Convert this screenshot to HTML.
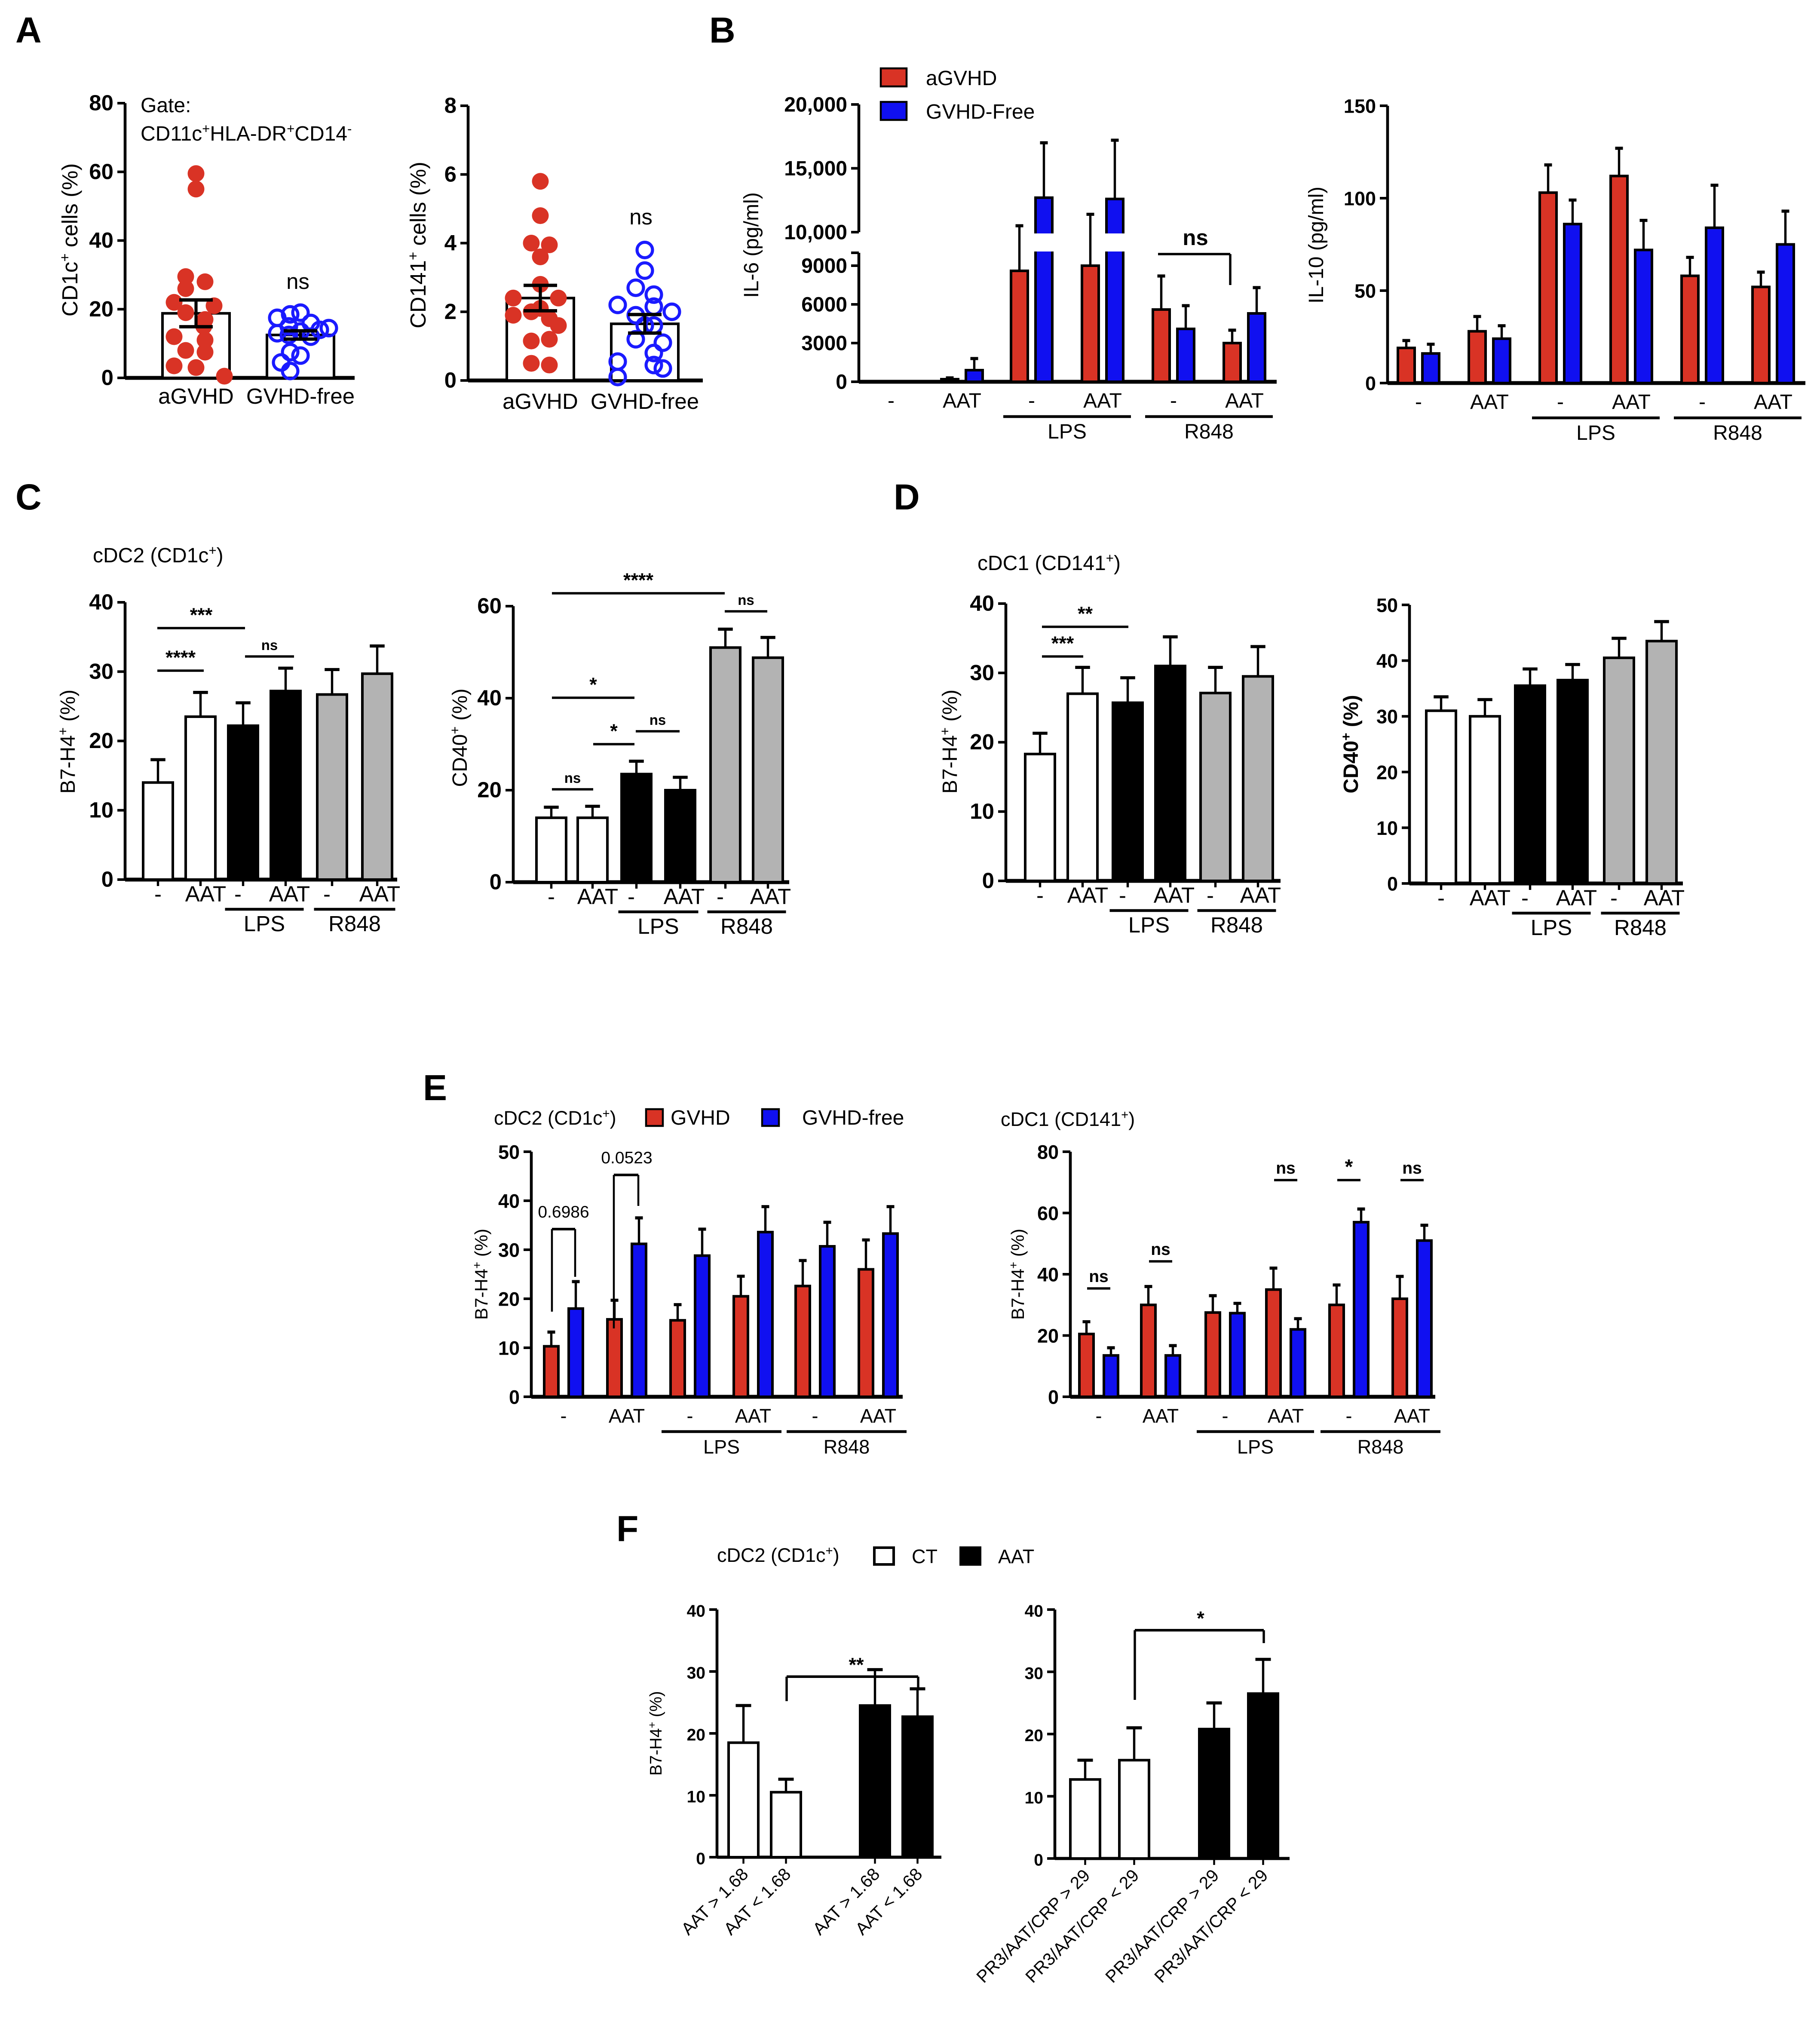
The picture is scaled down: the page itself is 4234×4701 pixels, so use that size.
<!DOCTYPE html>
<html><head><meta charset="utf-8"><style>
html,body{margin:0;padding:0;background:#fff;}
svg{display:block;font-family:"Liberation Sans",Arial,sans-serif;}
</style></head><body>
<svg id="fig" xmlns="http://www.w3.org/2000/svg" width="4234" height="4701" viewBox="0 0 1411.33 1567"></svg>
<script>
// ---------- DATA ----------
const A1_red=[59.5,55,29.5,28,26,22,21,19,17,15,12,11,8,7.5,3.5,3,0.5];
const A1_blue=[19,18.5,17.5,16,15,14.5,14,13.5,13,12.5,12,7.5,6.5,4.5,2];
const A1_means=[18.8,12.5];
const A1_sem=[3.9,1.2];
const A2_red=[5.8,4.8,4.0,3.95,3.6,2.8,2.4,2.4,2.1,2.0,1.8,1.9,1.6,1.2,1.15,0.5,0.45];
const A2_blue=[3.8,3.2,2.7,2.5,2.2,2.0,1.9,2.15,1.6,1.6,1.2,1.1,0.8,0.55,0.45,0.35,0.1];
const A2_means=[2.4,1.65];
const A2_sem=[0.37,0.27];
const A_cats=["aGVHD","GVHD-free"];

const B1_red=[30,200,8600,9000,5600,3000];
const B1_redErr=[30,300,10500,11400,8200,4000];
const B1_blue=[30,900,12700,12600,4100,5300];
const B1_blueErr=[30,1800,17000,17200,5900,7300];
const B2_red=[19,28,103,112,58,52];
const B2_redErr=[23,36,118,127,68,60];
const B2_blue=[16,24,86,72,84,75];
const B2_blueErr=[21,31,99,88,107,93];

const C1_vals=[14,23.5,22.2,27.2,26.7,29.7];
const C1_err=[17.3,27,25.5,30.5,30.3,33.7];
const C2_vals=[14,14,23.5,20,51,48.8];
const C2_err=[16.3,16.5,26.3,22.8,55,53.2];
const D1_vals=[18.3,27,25.7,31,27.1,29.5];
const D1_err=[21.3,30.8,29.3,35.2,30.8,33.8];
const D2_vals=[31,30,35.5,36.5,40.5,43.5];
const D2_err=[33.5,33,38.5,39.3,44,47];

const E1_red=[10.3,15.8,15.6,20.5,22.6,26];
const E1_redErr=[13.2,19.7,18.8,24.6,27.8,32];
const E1_blue=[18,31.2,28.8,33.6,30.7,33.3];
const E1_blueErr=[23.5,36.5,34.2,38.8,35.6,38.8];
const E2_red=[20.5,30,27.5,35,30,32];
const E2_redErr=[24.5,36,33,42,36.5,39.3];
const E2_blue=[13.5,13.5,27.3,22,57,51];
const E2_blueErr=[16,16.7,30.5,25.5,61.3,56];

const F1_vals=[18.5,10.5,24.5,22.7];
const F1_err=[24.5,12.6,30.3,27.2];
const F1_labels=["AAT > 1.68","AAT < 1.68","AAT > 1.68","AAT < 1.68"];
const F2_vals=[12.7,15.8,20.8,26.5];
const F2_err=[15.8,21,25,32];
const F2_labels=["PR3/AAT/CRP > 29","PR3/AAT/CRP < 29","PR3/AAT/CRP > 29","PR3/AAT/CRP < 29"];

// ---------- HELPERS ----------
const NS="http://www.w3.org/2000/svg";
const svg=document.getElementById('fig');
function mk(tag,attrs,name,parent){
  const e=document.createElementNS(NS,tag);
  for(const k in attrs)e.setAttribute(k,attrs[k]);
  
  
  (parent||svg).appendChild(e);return e;
}
function txt(x,y,s,size,name,opt){
  opt=opt||{};
  const t=mk('text',{x:x,y:y,'font-size':size,'text-anchor':opt.anchor||'middle','font-weight':opt.bold?'bold':'normal',fill:'#000'},name);
  if(opt.rot)t.setAttribute('transform','rotate('+opt.rot+' '+x+' '+y+')');
  if(Array.isArray(s)){s.forEach(p=>{const ts=document.createElementNS(NS,'tspan');
    if(p[1]){ts.setAttribute('baseline-shift','super');ts.setAttribute('font-size',size*0.65);}
    ts.textContent=p[0];t.appendChild(ts);});}
  else t.textContent=s;
  return t;
}
function line(x1,y1,x2,y2,w,name){return mk('line',{x1:x1,y1:y1,x2:x2,y2:y2,stroke:'#000','stroke-width':w||2},name);}
function scale(y0,y1,vmax){return v=>y0-(y0-y1)*v/vmax;}
function yaxis(x,y0,y1,vmax,ticks,fmt,size,name){
  const s=scale(y0,y1,vmax);
  line(x,y0,x,y1,2.2,name+'-line');
  ticks.forEach(t=>{line(x-6,s(t),x,s(t),2,name+'-tick');
    txt(x-9,s(t)+5.5,fmt?fmt(t):String(t),size||16,name+'-label',{anchor:'end',bold:true});});
  return s;
}
function bar(x,w,y0,yv,fill,name){return mk('rect',{x:x,y:Math.min(yv,y0),width:w,height:Math.abs(y0-yv),fill:fill,stroke:'#000','stroke-width':2},name);}
function err(cx,yv,ye,cap,name){line(cx,yv,cx,ye,1.8,name);line(cx-cap,ye,cx+cap,ye,2.4,name+'-cap');}
function catLabels(centers,y,labels,size,name){centers.forEach((c,i)=>txt(c,y,labels[i],size,name));}
function groupLine(x1,x2,y,label,size,name){line(x1,y,x2,y,2.2,name+'-line');txt((x1+x2)/2,y+17,label,size,name+'-label');}
function sig(x1,x2,y,label,size,name){line(x1,y,x2,y,1.8,name+'-line');txt((x1+x2)/2,y-5,label,size,name+'-label',{bold:true});}

// ---------- PANEL LETTERS ----------
[["A",12,33],["B",550,33],["C",12,395],["D",693,395],["E",328,853],["F",478,1195]].forEach(p=>txt(p[1],p[2],p[0],28,'panel-letter-'+p[0],{anchor:'start',bold:true}));

// ---------- A1 ----------
(function(){
  const s=yaxis(97,293,80,80,[0,20,40,60,80],null,17,'a1-y-axis');
  line(97,293,275,293,3,'a1-x-axis');
  txt(60,186,[["CD1c",0],["+",1],[" cells (%)",0]],17,'a1-y-title',{rot:-90});
  txt(109,87,"Gate:",16,'a1-gate-label',{anchor:'start'});
  txt(109,109,[["CD11c",0],["+",1],["HLA-DR",0],["+",1],["CD14",0],["-",1]],16,'a1-gate-text',{anchor:'start'});
  const cx=[152,233];
  [0,1].forEach(i=>{bar(cx[i]-26,52,293,s(A1_means[i]),'#fff','a1-bar-'+i);});
  A1_red.forEach((v,i)=>{const off=[0,0,-8,7,-8,-17,14,-8,7,6,-17,7,-8,7,-17,0,22][i];
    mk('circle',{cx:cx[0]+off,cy:s(v),r:6.5,fill:'#d93325'},'a1-point-agvhd');});
  A1_blue.forEach((v,i)=>{const off=[0,-8,-18,8,-9,22,15,0,-18,-9,8,-8,0,-15,-8][i];
    mk('circle',{cx:cx[1]+off,cy:s(v),r:6,fill:'none',stroke:'#1a1aff','stroke-width':2.4},'a1-point-gvhdfree');});
  [0,1].forEach(i=>{const m=A1_means[i],e=A1_sem[i];line(cx[i],s(m-e),cx[i],s(m+e),2.4,'a1-sem');
    line(cx[i]-13,s(m+e),cx[i]+13,s(m+e),2.6,'a1-sem-cap');line(cx[i]-13,s(m-e),cx[i]+13,s(m-e),2.6,'a1-sem-cap');});
  txt(231,224,"ns",17,'a1-ns');
  catLabels(cx,313,A_cats,17,'a1-category');
})();
// ---------- A2 ----------
(function(){
  const s=yaxis(363,295,82,8,[0,2,4,6,8],null,17,'a2-y-axis');
  line(363,295,545,295,3,'a2-x-axis');
  txt(330,190,[["CD141",0],["+",1],[" cells (%)",0]],17,'a2-y-title',{rot:-90});
  const cx=[419,500];
  [0,1].forEach(i=>bar(cx[i]-26,52,295,s(A2_means[i]),'#fff','a2-bar-'+i));
  A2_red.forEach((v,i)=>{const off=[0,0,-7,7,0,0,-21,14,0,-7,7,-21,14,7,-7,-7,7][i];
    mk('circle',{cx:cx[0]+off,cy:s(v),r:6.5,fill:'#d93325'},'a2-point-agvhd');});
  A2_blue.forEach((v,i)=>{const off=[0,0,-7,7,-21,21,-7,7,0,7,-7,14,7,-21,7,14,-21][i];
    mk('circle',{cx:cx[1]+off,cy:s(v),r:6,fill:'none',stroke:'#1a1aff','stroke-width':2.4},'a2-point-gvhdfree');});
  [0,1].forEach(i=>{const m=A2_means[i],e=A2_sem[i];line(cx[i],s(m-e),cx[i],s(m+e),2.4,'a2-sem');
    line(cx[i]-13,s(m+e),cx[i]+13,s(m+e),2.6,'a2-sem-cap');line(cx[i]-13,s(m-e),cx[i]+13,s(m-e),2.6,'a2-sem-cap');});
  txt(497,174,"ns",17,'a2-ns');
  catLabels(cx,317,A_cats,17,'a2-category');
})();

function grouped(prefix,s,y0,centers,red,redE,blue,blueE,bw,gap){
  centers.forEach((c,i)=>{
    const xr=c-gap/2-bw, xb=c+gap/2;
    bar(xr,bw,y0,s(red[i]),'#d93325',prefix+'-bar-red');
    err(xr+bw/2,s(red[i]),s(redE[i]),3,prefix+'-err-red');
    bar(xb,bw,y0,s(blue[i]),'#1010f0',prefix+'-bar-blue');
    err(xb+bw/2,s(blue[i]),s(blueE[i]),3,prefix+'-err-blue');
  });
}
function sixLabels(prefix,centers,yAx,size){
  const lab=["-","AAT","-","AAT","-","AAT"];
  catLabels(centers,yAx+20,lab,size,prefix+'-category');
  groupLine(centers[2]-22,centers[3]+22,yAx+27,"LPS",size,prefix+'-group-lps');
  groupLine(centers[4]-22,centers[5]+22,yAx+27,"R848",size,prefix+'-group-r848');
}

// ---------- B1 (broken axis) ----------
(function(){
  const lo=scale(296,206,9000);
  const up=v=>180-(v-10000)*(99/10000);
  const s=v=> v<=9300 ? lo(v) : (v<10000? 188 : up(v));
  const x=666;
  line(x,296,x,196,2.2,'b1-y-axis-lower');line(x,180,x,81,2.2,'b1-y-axis-upper');
  line(x-6,196,x,196,2,'b1-break-tick');
  [0,3000,6000,9000].forEach(t=>{line(x-6,lo(t),x,lo(t),2,'b1-tick');txt(x-9,lo(t)+5.5,String(t),16,'b1-tick-label',{anchor:'end',bold:true});});
  [[10000,"10,000"],[15000,"15,000"],[20000,"20,000"]].forEach(t=>{line(x-6,up(t[0]),x,up(t[0]),2,'b1-tick');txt(x-9,up(t[0])+5.5,t[1],16,'b1-tick-label',{anchor:'end',bold:true});});
  line(x,296,990,296,3,'b1-x-axis');
  txt(588,190,"IL-6 (pg/ml)",16,'b1-y-title',{rot:-90});
  const centers=[691,746,800,855,910,965];
  grouped('b1',s,296,centers,B1_red,B1_redErr,B1_blue,B1_blueErr,13,6);
  mk('rect',{x:x+2,y:181,width:300,height:14,fill:'#fff'},'b1-axis-gap');
  // redraw error stems crossing the gap for red bars above break
  centers.forEach((c,i)=>{if(B1_red[i]>8000&&B1_redErr[i]>10000){line(c-9.5,181,c-9.5,195,1.8,'b1-err-red');}});
  sixLabels('b1',centers,296,16);
  line(898,197,954,197,1.8,'b1-ns-line');line(954,197,954,221,1.8,'b1-ns-tick');
  txt(927,190,"ns",17,'b1-ns',{bold:true});
  mk('rect',{x:683,y:53,width:20,height:14,fill:'#d93325',stroke:'#000','stroke-width':1.5},'legend-swatch-agvhd');
  txt(718,66,"aGVHD",16,'legend-label-agvhd',{anchor:'start'});
  mk('rect',{x:683,y:79,width:20,height:14,fill:'#1010f0',stroke:'#000','stroke-width':1.5},'legend-swatch-gvhdfree');
  txt(718,92,"GVHD-Free",16,'legend-label-gvhdfree',{anchor:'start'});
})();
// ---------- B2 ----------
(function(){
  const s=yaxis(1076,297,82,150,[0,50,100,150],null,15,'b2-y-axis');
  line(1076,297,1400,297,3,'b2-x-axis');
  txt(1026,190,"IL-10 (pg/ml)",16,'b2-y-title',{rot:-90});
  const centers=[1100,1155,1210,1265,1320,1375];
  grouped('b2',s,297,centers,B2_red,B2_redErr,B2_blue,B2_blueErr,13,6);
  sixLabels('b2',centers,297,16);
})();

function sixBars(prefix,s,y0,lefts,w,vals,errs){
  const fills=['#fff','#fff','#000','#000','#b3b3b3','#b3b3b3'];
  lefts.forEach((x,i)=>{bar(x,w,y0,s(vals[i]),fills[i],prefix+'-bar');err(x+w/2,s(vals[i]),s(errs[i]),w/4,prefix+'-err');
    line(x+w/2,y0,x+w/2,y0+5,1.8,prefix+'-x-tick');});
}
function sixBarLabels(prefix,lefts,w,y0){
  const c=lefts.map(x=>x+w/2);
  catLabels([c[0],c[1]+4],y0+17,["-","AAT"],17,prefix+'-category');
  catLabels([c[2]-4,c[3]+3,c[4]-4,c[5]+2],y0+17,["-","AAT","-","AAT"],17,prefix+'-category');
  groupLine(c[2]-14,c[3]+14,y0+23,"LPS",17,prefix+'-group-lps');
  groupLine(c[4]-14,c[5]+14,y0+23,"R848",17,prefix+'-group-r848');
}
// ---------- C1 ----------
(function(){
  txt(72,436,[["cDC2 (CD1c",0],["+",1],[")",0]],16,'c-title',{anchor:'start'});
  const s=yaxis(97,682,467,40,[0,10,20,30,40],null,17,'c1-y-axis');
  line(97,682,308,682,3,'c1-x-axis');
  txt(58,575,[["B7-H4",0],["+",1],[" (%)",0]],16,'c1-y-title',{rot:-90});
  const L=[111,144,177,210,246,281];
  sixBars('c1',s,682,L,23,C1_vals,C1_err);
  sixBarLabels('c1',L,23,682);
  sig(122,158,520,"****",15,'c1-sig-1');sig(122,190,487,"***",15,'c1-sig-2');sig(190,228,509,"ns",11,'c1-sig-3');
})();
// ---------- C2 ----------
(function(){
  const s=yaxis(398,684,470,60,[0,20,40,60],null,17,'c2-y-axis');
  line(398,684,612,684,3,'c2-x-axis');
  txt(362,572,[["CD40",0],["+",1],[" (%)",0]],16,'c2-y-title',{rot:-90});
  const L=[416,448,482,516,551,584];
  sixBars('c2',s,684,L,23,C2_vals,C2_err);
  sixBarLabels('c2',L,23,684);
  sig(428,460,612,"ns",11,'c2-sig-1');sig(460,492,577,"*",15,'c2-sig-2');sig(493,527,567,"ns",11,'c2-sig-3');
  sig(428,492,541,"*",15,'c2-sig-4');sig(428,562,460,"****",15,'c2-sig-5');sig(562,595,474,"ns",11,'c2-sig-6');
})();
// ---------- D1 ----------
(function(){
  txt(758,442,[["cDC1 (CD141",0],["+",1],[")",0]],16,'d-title',{anchor:'start'});
  const s=yaxis(780,683,468,40,[0,10,20,30,40],null,17,'d1-y-axis');
  line(780,683,993,683,3,'d1-x-axis');
  txt(742,575,[["B7-H4",0],["+",1],[" (%)",0]],16,'d1-y-title',{rot:-90});
  const L=[795,828,863,896,931,964];
  sixBars('d1',s,683,L,23,D1_vals,D1_err);
  sixBarLabels('d1',L,23,683);
  sig(808,840,509,"***",15,'d1-sig-1');sig(808,875,486,"**",15,'d1-sig-2');
})();
// ---------- D2 ----------
(function(){
  const s=yaxis(1093,685,469,50,[0,10,20,30,40,50],null,15,'d2-y-axis');
  line(1093,685,1305,685,3,'d2-x-axis');
  txt(1053,577,[["CD40",0],["+",1],[" (%)",0]],16,'d2-y-title',{rot:-90,bold:true});
  const L=[1106,1140,1175,1208,1244,1277];
  sixBars('d2',s,685,L,23,D2_vals,D2_err);
  sixBarLabels('d2',L,23,685);
})();
// ---------- E1 ----------
(function(){
  txt(383,872,[["cDC2 (CD1c",0],["+",1],[")",0]],15,'e1-title',{anchor:'start'});
  mk('rect',{x:501,y:860,width:13,height:13,fill:'#d93325',stroke:'#000','stroke-width':1.5},'e-legend-swatch-gvhd');
  txt(520,872,"GVHD",16,'e-legend-label-gvhd',{anchor:'start'});
  mk('rect',{x:591,y:860,width:13,height:13,fill:'#1010f0',stroke:'#000','stroke-width':1.5},'e-legend-swatch-gvhdfree');
  txt(622,872,"GVHD-free",16,'e-legend-label-gvhdfree',{anchor:'start'});
  const s=yaxis(412,1083,893,50,[0,10,20,30,40,50],null,15,'e1-y-axis');
  line(412,1083,700,1083,3,'e1-x-axis');
  txt(378,988,[["B7-H4",0],["+",1],[" (%)",0]],14,'e1-y-title',{rot:-90});
  const centers=[437,486,535,584,632,681];
  grouped('e1',s,1083,centers,E1_red,E1_redErr,E1_blue,E1_blueErr,11,8);
  sixLabels('e1',centers,1083,15);
  line(428,1017,428,953,1.5,'e1-bracket-1');line(428,953,446,953,2,'e1-bracket-1');line(446,953,446,990,1.5,'e1-bracket-1');
  txt(437,944,"0.6986",13,'e1-pvalue-1');
  line(476,1030,476,911,1.5,'e1-bracket-2');line(476,911,495,911,2,'e1-bracket-2');line(495,911,495,935,1.5,'e1-bracket-2');
  txt(486,902,"0.0523",13,'e1-pvalue-2');
})();
// ---------- E2 ----------
(function(){
  txt(776,873,[["cDC1 (CD141",0],["+",1],[")",0]],15,'e2-title',{anchor:'start'});
  const s=yaxis(830,1083,893,80,[0,20,40,60,80],null,15,'e2-y-axis');
  line(830,1083,1113,1083,3,'e2-x-axis');
  txt(794,988,[["B7-H4",0],["+",1],[" (%)",0]],14,'e2-y-title',{rot:-90});
  const centers=[852,900,950,997,1046,1095];
  grouped('e2',s,1083,centers,E2_red,E2_redErr,E2_blue,E2_blueErr,11,8);
  sixLabels('e2',centers,1083,15);
  sig(843,861,999,"ns",13,'e2-sig-1');sig(891,909,978,"ns",13,'e2-sig-2');
  sig(988,1006,915,"ns",13,'e2-sig-3');sig(1037,1055,915,"*",16,'e2-sig-4');sig(1086,1104,915,"ns",13,'e2-sig-5');
})();
// ---------- F ----------
(function(){
  txt(556,1211,[["cDC2 (CD1c",0],["+",1],[")",0]],15,'f-title',{anchor:'start'});
  mk('rect',{x:678,y:1200,width:15,height:13,fill:'#fff',stroke:'#000','stroke-width':2},'f-legend-swatch-ct');
  txt(707,1212,"CT",15,'f-legend-label-ct',{anchor:'start'});
  mk('rect',{x:745,y:1200,width:15,height:13,fill:'#000',stroke:'#000','stroke-width':2},'f-legend-swatch-aat');
  txt(774,1212,"AAT",15,'f-legend-label-aat',{anchor:'start'});
  function fpanel(prefix,x0,y0,y1,xEnd,L,vals,errs,labels){
    const s=yaxis(x0,y0,y1,40,[0,10,20,30,40],null,13,prefix+'-y-axis');
    line(x0,y0,xEnd,y0,2.4,prefix+'-x-axis');
    const fills=['#fff','#fff','#000','#000'];
    L.forEach((x,i)=>{bar(x,23,y0,s(vals[i]),fills[i],prefix+'-bar');err(x+11.5,s(vals[i]),s(errs[i]),6,prefix+'-err');
      line(x+11.5,y0,x+11.5,y0+5,1.5,prefix+'-x-tick');
      txt(x+16,y0+14,labels[i],13.5,prefix+'-category',{anchor:'end',rot:-45});});
    return s;
  }
  fpanel('f1',556,1440,1248,730,[565,598,667,700],F1_vals,F1_err,F1_labels);
  txt(513,1344,[["B7-H4",0],["+",1],[" (%)",0]],13,'f1-y-title',{rot:-90});
  line(610,1319,610,1300,1.8,'f1-bracket');line(610,1300,712,1300,2,'f1-bracket');line(712,1300,712,1310,1.8,'f1-bracket');
  txt(664,1296,"**",15,'f1-sig-label',{bold:true});
  fpanel('f2',818,1441,1248,1000,[830,868,930,968],F2_vals,F2_err,F2_labels);
  line(880,1318,880,1264,1.8,'f2-bracket');line(880,1264,980,1264,2,'f2-bracket');line(980,1264,980,1274,1.8,'f2-bracket');
  txt(931,1260,"*",15,'f2-sig-label',{bold:true});
})();
</script>
</body></html>
